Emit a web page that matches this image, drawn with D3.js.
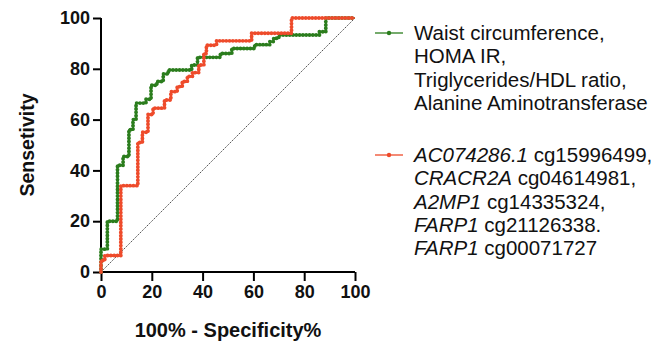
<!DOCTYPE html>
<html>
<head>
<meta charset="utf-8">
<script src="https://cdn.jsdelivr.net/npm/d3@7"></script>
<style>
  body { margin: 0; background: #fff; }
  svg { display: block; font-family: "Liberation Sans", Arial, sans-serif; }
</style>
</head>
<body>
<div id="roc-chart"></div>
<script>
// ROC curve vertices, [100% - specificity, sensitivity]
const clinicalCurve = [
  [0, 0], [0, 9], [2.5, 9], [2.5, 20], [6.5, 20], [6.5, 42], [8.7, 42], [8.7, 45.5],
  [11, 45.5], [11, 56], [12.6, 56], [12.6, 60], [13.8, 60], [13.8, 66.5], [17.7, 66.5],
  [17.7, 68], [19.7, 68], [19.7, 73.5], [22, 73.5], [22, 75], [24.5, 75], [24.5, 78],
  [26.5, 78], [26.5, 79.5], [35.7, 79.5], [35.7, 81.5], [38, 81.5], [38, 84.5], [47, 84.5],
  [47, 86], [51.5, 86], [51.5, 88], [60.5, 88], [60.5, 89.5], [66.5, 89.5], [66.5, 90.7],
  [68, 90.7], [68, 92], [70, 92], [70, 93.3], [86, 93.3], [86, 94.6], [88.5, 94.6],
  [88.5, 100], [100, 100]
];
const methylationCurve = [
  [0, 0], [0, 4.5], [1.5, 4.5], [1.5, 6.5], [7.8, 6.5], [7.8, 34], [14.5, 34], [14.5, 51],
  [16.3, 51], [16.3, 55], [18.5, 55], [18.5, 62], [20.5, 62], [20.5, 64.5], [25, 64.5],
  [25, 67.7], [27.5, 67.7], [27.5, 71], [30, 71], [30, 73], [32, 73], [32, 75], [34, 75],
  [34, 77], [36, 77], [36, 78.5], [38.5, 78.5], [38.5, 81.5], [40.5, 81.5], [40.5, 86],
  [41.5, 86], [41.5, 89.3], [45.5, 89.3], [45.5, 91], [59.3, 91], [59.3, 94], [75, 94],
  [75, 100], [100, 100]
];
const referenceLine = [[0, 0], [100, 100]];

const tickValues = [0, 20, 40, 60, 80, 100];

const clinicalLabel = [
  "Waist circumference,",
  "HOMA IR,",
  "Triglycerides/HDL ratio,",
  "Alanine Aminotransferase"
];
// [italic gene name, probe id]
const methylationLabel = [
  ["AC074286.1", " cg15996499,"],
  ["CRACR2A", " cg04614981,"],
  ["A2MP1", " cg14335324,"],
  ["FARP1", " cg21126338."],
  ["FARP1", " cg00071727"]
];

// layout
const width = 665;
const height = 341;
const plot = { left: 101, right: 355, top: 18, bottom: 272 };
const colors = { clinical: "#2b7d1d", methylation: "#ee4b2b" };

const svg = d3.select("#roc-chart")
  .append("svg")
  .attr("width", width)
  .attr("height", height);

const x = d3.scaleLinear().domain([0, 100]).range([plot.left, plot.right]);
const y = d3.scaleLinear().domain([0, 100]).range([plot.bottom, plot.top]);

// axes
const xAxis = svg.append("g")
  .attr("transform", "translate(0," + plot.bottom + ")")
  .call(d3.axisBottom(x).tickValues(tickValues).tickSize(9).tickPadding(4));
const yAxis = svg.append("g")
  .attr("transform", "translate(" + plot.left + ",0)")
  .call(d3.axisLeft(y).tickValues(tickValues).tickSize(8).tickPadding(3));

[xAxis, yAxis].forEach(function(g) {
  g.select(".domain").attr("stroke", "#000").attr("stroke-width", 2);
  g.selectAll(".tick line").attr("stroke", "#000").attr("stroke-width", 2);
  g.selectAll(".tick text")
    .attr("fill", "#111")
    .style("font-size", "18px")
    .style("font-weight", "bold")
    .style("font-family", "Liberation Sans, Arial, sans-serif");
});
xAxis.select(".domain").attr("d", "M" + plot.left + ",0H" + plot.right);
yAxis.select(".domain").attr("d", "M0," + plot.bottom + "V" + plot.top);

// axis titles
svg.append("text")
  .attr("x", 228)
  .attr("y", 337)
  .attr("text-anchor", "middle")
  .style("font-size", "20px")
  .style("font-weight", "bold")
  .attr("fill", "#111")
  .text("100% - Specificity%");

svg.append("text")
  .attr("transform", "translate(34,145) rotate(-90)")
  .attr("text-anchor", "middle")
  .style("font-size", "19.5px")
  .style("font-weight", "bold")
  .attr("fill", "#111")
  .text("Sensetivity");

const line = d3.line()
  .x(function(d) { return x(d[0]); })
  .y(function(d) { return y(d[1]); });

// chance diagonal
svg.append("path")
  .attr("d", line(referenceLine))
  .attr("fill", "none")
  .attr("stroke", "#222")
  .attr("stroke-width", 0.8)
  .attr("stroke-dasharray", "1.5,1");

// curves: beaded look from round-capped zero-length dashes
[[clinicalCurve, colors.clinical], [methylationCurve, colors.methylation]].forEach(function(c) {
  svg.append("path")
    .attr("d", line(c[0]))
    .attr("fill", "none")
    .attr("stroke", c[1])
    .attr("stroke-width", 1.5);
  svg.append("path")
    .attr("d", line(c[0]))
    .attr("fill", "none")
    .attr("stroke", c[1])
    .attr("stroke-width", 3.9)
    .attr("stroke-linecap", "round")
    .attr("stroke-dasharray", "0,3.3");
});

// legend
const legend = { sampleX: 375, sampleW: 28, textX: 414, lineH: 23.3, fontSize: "20.5px" };

function legendSample(cy, color) {
  svg.append("line")
    .attr("x1", legend.sampleX).attr("x2", legend.sampleX + legend.sampleW)
    .attr("y1", cy).attr("y2", cy)
    .attr("stroke", color).attr("stroke-width", 1.3);
  svg.append("circle")
    .attr("cx", legend.sampleX + legend.sampleW / 2).attr("cy", cy)
    .attr("r", 2.2).attr("fill", color);
}

legendSample(33, colors.clinical);
svg.append("g").selectAll("text")
  .data(clinicalLabel)
  .enter()
  .append("text")
  .attr("x", legend.textX)
  .attr("y", function(d, i) { return 40 + i * legend.lineH; })
  .style("font-size", legend.fontSize)
  .attr("fill", "#111")
  .text(function(d) { return d; });

legendSample(155, colors.methylation);
const methylText = svg.append("g").selectAll("text")
  .data(methylationLabel)
  .enter()
  .append("text")
  .attr("x", legend.textX)
  .attr("y", function(d, i) { return 162 + i * legend.lineH; })
  .style("font-size", legend.fontSize)
  .attr("fill", "#111");
methylText.append("tspan").style("font-style", "italic").text(function(d) { return d[0]; });
methylText.append("tspan").text(function(d) { return d[1]; });
</script>
</body>
</html>
